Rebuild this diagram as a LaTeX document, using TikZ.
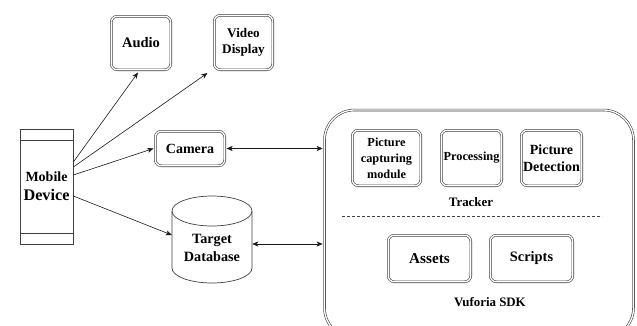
\documentclass[tikz,border=0pt]{standalone}
\usepackage{fontspec}
\setmainfont{Liberation Serif}
\usetikzlibrary{arrows.meta}
\tikzset{
  dbox/.style={draw=black!75, double=white, double distance=1.3pt, line width=0.6pt,
    rounded corners=6pt, inner sep=0pt, align=center, fill=white},
  conn/.style={draw=black!90, line width=0.6pt},
  tipp/.style={-{Stealth[length=6pt,width=5pt,inset=1.5pt]}},
  tipboth/.style={{Stealth[length=6pt,width=5pt,inset=1.5pt]}-{Stealth[length=6pt,width=5pt,inset=1.5pt]}},
  plain/.style={draw=black!75, line width=0.7pt},
}
\begin{document}
\begin{tikzpicture}[x=1pt,y=-1pt]
\useasboundingbox (0,0) rectangle (637,325);
% Vuforia SDK container
\node[dbox, rounded corners=30pt, minimum width=309pt, minimum height=228pt] (sdk) at (479,224) {};
% Tracker modules
\node[dbox, minimum width=68.5pt, minimum height=55.5pt, font=\bfseries\fontsize{12.3}{16}\selectfont] (pcm) at (386.5,158) {Picture\\capturing\\module};
\node[dbox, minimum width=60.5pt, minimum height=55.5pt, font=\bfseries\fontsize{12.3}{15}\selectfont] (proc) at (471.5,158) {Processing};
\node[dbox, minimum width=60.5pt, minimum height=55.5pt, font=\bfseries\fontsize{14}{17}\selectfont] (pdet) at (551.5,158) {Picture\\Detection};
\node[font=\bfseries\fontsize{12.9}{16}\selectfont] (tracker) at (471,202) {Tracker};
\draw[draw=black!75, line width=0.6pt, dash pattern=on 3pt off 2pt] (342,216) coordinate (dl) -- (602,216) coordinate (dr);
\node[dbox, minimum width=82.5pt, minimum height=46.5pt, font=\bfseries\fontsize{15.2}{18}\selectfont] (assets) at (429.5,258.5) {Assets};
\node[dbox, minimum width=82.5pt, minimum height=46.5pt, font=\bfseries\fontsize{14.4}{18}\selectfont] (scripts) at (531.5,258.5) {Scripts};
\node[font=\bfseries\fontsize{12.9}{16}\selectfont] (vsdk) at (490,302) {Vuforia SDK};
% Left side
\node[dbox, minimum width=59.5pt, minimum height=53.5pt, font=\bfseries\fontsize{14.5}{18}\selectfont] (audio) at (141,43) {Audio};
\node[dbox, minimum width=58.5pt, minimum height=54.5pt, font=\bfseries\fontsize{13.2}{16.5}\selectfont] (video) at (243.5,42.5) {Video\\Display};
\node[dbox, minimum width=69.5pt, minimum height=34.5pt, font=\bfseries\fontsize{14}{17}\selectfont] (camera) at (190,148.5) {Camera};
% Mobile device
\node[plain, minimum width=53pt, minimum height=115pt, inner sep=0pt, align=center,
  font=\bfseries\fontsize{16.2}{19}\selectfont] (mob) at (46.5,186.5)
  {{\fontsize{14}{19}\selectfont Mobile}\\Device};
\draw[plain] ([yshift=-12pt]mob.north west) -- ([yshift=-12pt]mob.north east);
\draw[plain] ([yshift=11pt]mob.south west) -- ([yshift=11pt]mob.south east);
% Target database cylinder
\draw[plain, fill=white] (172,211) -- (172,268) arc[start angle=180, end angle=0, x radius=40, y radius=15] -- (252,211);
\draw[plain] (212,211) ellipse[x radius=40, y radius=15];
\node[minimum width=80pt, minimum height=87pt, inner sep=0pt] (db) at (212,239.5) {};
\node[align=center, font=\bfseries\fontsize{14.2}{17.5}\selectfont] (dbtext) at (212,248) {Target\\Database};
% Connectors
\draw[conn, tipp] ([yshift=24.5pt]mob.east) -- ([xshift=-3pt,yshift=-2.5pt]audio.south);
\draw[conn, tipp] ([yshift=19.5pt]mob.east) -- ([xshift=-6.5pt,yshift=-3pt]video.south west);
\draw[conn, tipp] ([yshift=11.5pt]mob.east) -- ([xshift=-1.5pt]camera.west);
\draw[conn, tipp] ([yshift=-9.5pt]mob.east) -- ([yshift=4.5pt]db.west);
\draw[conn, tipboth] ([xshift=1.5pt]camera.east) -- ([xshift=-1.5pt]camera.east -| sdk.west);
\draw[conn, tipboth] ([yshift=-4.5pt]db.east) -- ([xshift=-1.5pt,yshift=-4.5pt]db.east -| sdk.west);
\end{tikzpicture}
\end{document}
